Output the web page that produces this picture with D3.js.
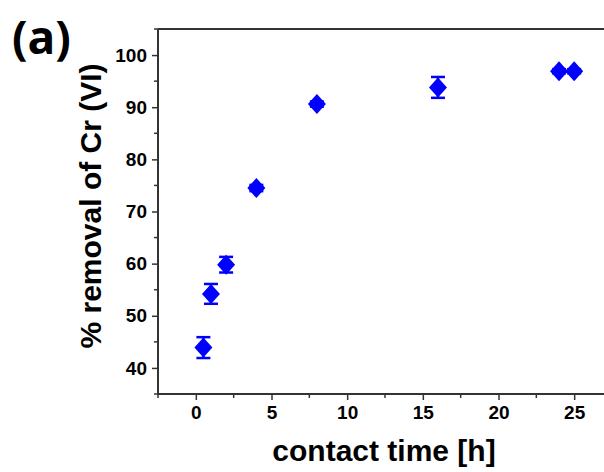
<!DOCTYPE html>
<html><head><meta charset="utf-8">
<script src="https://cdn.jsdelivr.net/npm/d3@7"></script>
<style>body{margin:0;background:#fff}svg{display:block}</style>
</head><body>
<svg id="chart" width="604" height="472"></svg>
<script>
const times = [0.5, 1, 2, 4, 8, 16, 24, 25];
const removal = [43.9, 54.2, 59.8, 74.5, 90.6, 93.8, 96.9, 96.9];
const errors = [2.0, 1.9, 1.5, 0.6, 0.5, 2.0, 0.4, 0.4];
const xTicks = [0, 5, 10, 15, 20, 25];
const yTicks = [40, 50, 60, 70, 80, 90, 100];
const xLabel = "contact time [h]";
const yLabel = "% removal of Cr (VI)";
const panelLabel = "(a)";

(function () {
const svg = d3.select("#chart");
const pLeft = 158, pTop = 29, pBottom = 394, pRight = 612;
const x = d3.scaleLinear().domain([-2.5, 27.5]).range([pLeft, pRight]);
const y = d3.scaleLinear().domain([35, 105]).range([pBottom, pTop]);
const axisColor = "#333";
const tickFont = "'Liberation Sans', Arial, sans-serif";

// Top frame line
svg.append("line").attr("x1", pLeft).attr("x2", pRight).attr("y1", pTop).attr("y2", pTop)
  .attr("stroke", axisColor).attr("stroke-width", 2);

// X axis
const xAxis = d3.axisBottom(x).tickValues(xTicks).tickSize(6).tickPadding(6).tickFormat(d3.format("d"));
const gx = svg.append("g").attr("transform", `translate(0,${pBottom})`).call(xAxis);
const xMinor = d3.range(-2.5, 28, 2.5).filter(v => !xTicks.includes(v));
svg.append("g").selectAll("line").data(xMinor).join("line")
  .attr("x1", d => x(d)).attr("x2", d => x(d)).attr("y1", pBottom).attr("y2", pBottom + 4)
  .attr("stroke", axisColor).attr("stroke-width", 1.5);

// Y axis
const yAxis = d3.axisLeft(y).tickValues(yTicks).tickSize(6).tickPadding(5).tickFormat(d3.format("d"));
const gy = svg.append("g").attr("transform", `translate(${pLeft},0)`).call(yAxis);
const yMinor = d3.range(35, 106, 5).filter(v => !yTicks.includes(v));
svg.append("g").selectAll("line").data(yMinor).join("line")
  .attr("x1", pLeft - 4).attr("x2", pLeft).attr("y1", d => y(d)).attr("y2", d => y(d))
  .attr("stroke", axisColor).attr("stroke-width", 1.5);

[gx, gy].forEach(g => {
  g.select(".domain").attr("stroke", axisColor).attr("stroke-width", 2);
  g.selectAll(".tick line").attr("stroke", axisColor).attr("stroke-width", 1.5);
  g.selectAll(".tick text").attr("fill", "#000").style("font-family", tickFont)
    .style("font-weight", "bold").style("font-size", "19px");
});
gy.select(".domain").attr("d", `M0,${pBottom}V${pTop}`);
gx.select(".domain").attr("d", `M${pLeft},0H${pRight}`);

// Error bars
const pts = times.map((t, i) => ({t, v: removal[i], e: errors[i]}));
const eb = svg.append("g").attr("stroke", "#0000ff").attr("stroke-width", 2.5);
eb.selectAll(".v").data(pts).join("line").attr("class", "v")
  .attr("x1", d => x(d.t)).attr("x2", d => x(d.t))
  .attr("y1", d => y(d.v - d.e)).attr("y2", d => y(d.v + d.e));
eb.selectAll(".c1").data(pts).join("line").attr("class", "c1")
  .attr("x1", d => x(d.t) - 7).attr("x2", d => x(d.t) + 7)
  .attr("y1", d => y(d.v + d.e)).attr("y2", d => y(d.v + d.e));
eb.selectAll(".c2").data(pts).join("line").attr("class", "c2")
  .attr("x1", d => x(d.t) - 7).attr("x2", d => x(d.t) + 7)
  .attr("y1", d => y(d.v - d.e)).attr("y2", d => y(d.v - d.e));

// Diamonds
const hw = 9, hh = 10;
svg.append("g").selectAll("path").data(pts).join("path")
  .attr("d", d => {
    const cx = x(d.t), cy = y(d.v);
    return `M${cx},${cy-hh}L${cx+hw},${cy}L${cx},${cy+hh}L${cx-hw},${cy}Z`;
  })
  .attr("fill", "#0000ff");

// Axis labels
svg.append("text").attr("x", 384).attr("y", 461).attr("text-anchor", "middle")
  .style("font-family", tickFont).style("font-weight", "bold").style("font-size", "30px")
  .text(xLabel);
svg.append("text").attr("transform", "translate(101,206) rotate(-90)").attr("text-anchor", "middle")
  .style("font-family", tickFont).style("font-weight", "bold").style("font-size", "30px")
  .text(yLabel);

// Panel label
svg.append("text").attr("x", 12).attr("y", 54)
  .style("font-family", "'Open Sans', 'Noto Sans', sans-serif").style("font-weight", "bold").style("font-size", "46px")
  .text(panelLabel);
})();
</script>
</body></html>
